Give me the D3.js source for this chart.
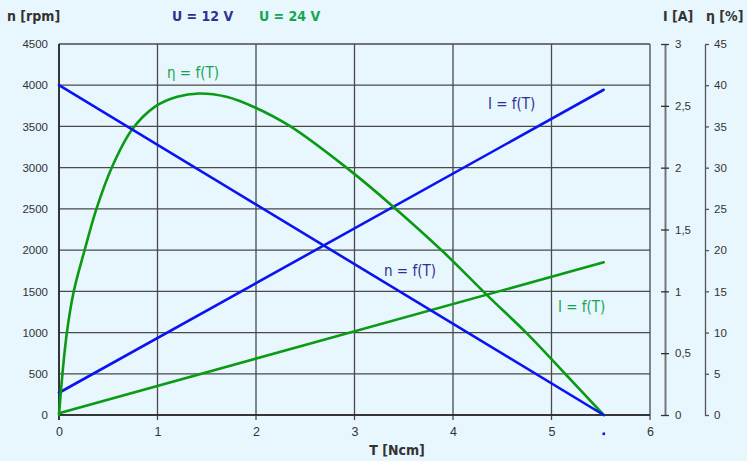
<!DOCTYPE html>
<html>
<head>
<meta charset="utf-8">
<script src="https://cdn.jsdelivr.net/npm/d3@7"></script>
<style>
  html, body { margin: 0; padding: 0; background: #e8f6fd; }
  svg { display: block; }
  .tick text { font-family: "Liberation Sans", Arial, sans-serif; font-size: 11.5px; fill: #333; }
  .title { font-family: "DejaVu Sans Condensed", "DejaVu Sans", sans-serif; font-stretch: condensed; font-weight: bold; }
  .lbl { font-family: "DejaVu Sans Condensed", "DejaVu Sans", sans-serif; font-stretch: condensed; }
</style>
</head>
<body>
<script>
// torque axis ticks and the curves
const torqueTicks = [0, 1, 2, 3, 4, 5, 6];
const speedTicks = [0, 500, 1000, 1500, 2000, 2500, 3000, 3500, 4000, 4500];
const currentTicks = [0, 0.5, 1, 1.5, 2, 2.5, 3];
const effTicks = [0, 5, 10, 15, 20, 25, 30, 35, 40, 45];

// n = f(T), 12 V
const speed12 = [[0, 4000], [5.53, 0]];
// I = f(T), 12 V and 24 V
const current12 = [[0, 0.18], [5.53, 2.63]];
const current24 = [[0, 0.015], [5.53, 1.235]];
// eta = f(T)
const efficiency = [
  [0, 0], [0.035, 5], [0.08, 10], [0.15, 15], [0.26, 20], [0.38, 25],
  [0.535, 30], [0.74, 34.6], [0.975, 37.4], [1.2, 38.6], [1.42, 39.0],
  [1.7, 38.6], [1.99, 37.3], [2.35, 35.0], [2.95, 29.7], [3.39, 25.3],
  [3.9, 19.8], [4.34, 14.6], [4.75, 9.9], [5.15, 4.85], [5.53, 0]
];
const stallTorque = 5.53;

const W = 747, H = 461;
const BLUE = "#0a14f0", GREEN = "#0a9a14";
const TXT_BLUE = "#2e3192", TXT_GREEN = "#15a650";

const x = d3.scaleLinear([0, 6], [59, 650]);
const yN = d3.scaleLinear([0, 4500], [415, 44]);
const yI = d3.scaleLinear([0, 3], [415, 44]);
const yE = d3.scaleLinear([0, 45], [415, 44]);

const svg = d3.select("body").append("svg")
    .attr("width", W)
    .attr("height", H);

svg.append("rect").attr("width", W).attr("height", H).attr("fill", "#e8f6fd");

// grid
const grid = svg.append("g").attr("stroke", "#4a4a4a").attr("stroke-width", 1.3);
grid.selectAll("line.h")
    .data(speedTicks)
    .join("line")
    .attr("class", "h")
    .attr("x1", x(0)).attr("x2", x(6))
    .attr("y1", d => yN(d)).attr("y2", d => yN(d));
grid.selectAll("line.v")
    .data(torqueTicks)
    .join("line")
    .attr("class", "v")
    .attr("x1", d => x(d)).attr("x2", d => x(d))
    .attr("y1", yN(4500)).attr("y2", yN(0) + 5);
// axis baselines a bit darker
svg.append("line").attr("x1", x(0)).attr("x2", x(6)).attr("y1", yN(0)).attr("y2", yN(0))
    .attr("stroke", "#222").attr("stroke-width", 1.6);
svg.append("line").attr("x1", x(0)).attr("x2", x(0)).attr("y1", yN(4500)).attr("y2", yN(0) + 5)
    .attr("stroke", "#222").attr("stroke-width", 1.6);

// left axis
svg.append("g")
    .attr("transform", `translate(${x(0)},0)`)
    .call(d3.axisLeft(yN).tickValues(speedTicks).tickSize(0).tickPadding(11).tickFormat(d3.format("d")))
    .call(g => g.select(".domain").remove());

// bottom axis
svg.append("g")
    .attr("transform", `translate(0,${yN(0)})`)
    .call(d3.axisBottom(x).tickValues(torqueTicks).tickSize(0).tickPadding(12).tickFormat(d3.format("d")))
    .call(g => g.select(".domain").remove())
    .call(g => g.selectAll(".tick text").style("font-size", "12.5px"));

// right axis: current
const comma = d => String(d).replace(".", ",");
svg.append("g")
    .attr("transform", "translate(665,0)")
    .call(d3.axisRight(yI).tickValues(currentTicks).tickSize(4).tickPadding(6).tickSizeOuter(0).tickFormat(comma))
    .call(g => g.select(".domain").attr("stroke", "#777").attr("stroke-width", 2))
    .call(g => g.selectAll(".tick line").attr("x1", -4).attr("stroke", "#333").attr("stroke-width", 1.3));

// right axis: efficiency
svg.append("g")
    .attr("transform", "translate(705,0)")
    .call(d3.axisRight(yE).tickValues(effTicks).tickSize(4).tickPadding(5).tickSizeOuter(0).tickFormat(d3.format("d")))
    .call(g => g.select(".domain").attr("stroke", "#555").attr("stroke-width", 1.3))
    .call(g => g.selectAll(".tick line").attr("stroke", "#555").attr("stroke-width", 1.3));

// curves
const lineN = d3.line().x(d => x(d[0])).y(d => yN(d[1]));
const lineI = d3.line().x(d => x(d[0])).y(d => yI(d[1]));
const lineE = d3.line().curve(d3.curveCatmullRom.alpha(0.5)).x(d => x(d[0])).y(d => yE(d[1]));

const curves = svg.append("g").attr("fill", "none").attr("stroke-width", 2.6).attr("stroke-linecap", "round");
curves.append("path").attr("d", lineI(current24)).attr("stroke", GREEN);
curves.append("path").attr("d", lineI(current12)).attr("stroke", BLUE);
curves.append("path").attr("d", lineE(efficiency)).attr("stroke", GREEN);
curves.append("path").attr("d", lineN(speed12)).attr("stroke", BLUE);

// stall torque marker under the axis
svg.append("rect")
    .attr("x", x(stallTorque) - 1.2).attr("y", 432.5)
    .attr("width", 2.6).attr("height", 2.6)
    .attr("fill", BLUE);

// titles
svg.append("text").attr("class", "title").attr("x", 7).attr("y", 21)
    .style("font-size", "14px").attr("fill", "#333").text("n [rpm]");
svg.append("text").attr("class", "title").attr("x", 172).attr("y", 21)
    .style("font-size", "14px").attr("fill", TXT_BLUE).text("U = 12 V");
svg.append("text").attr("class", "title").attr("x", 259).attr("y", 21)
    .style("font-size", "14px").attr("fill", TXT_GREEN).text("U = 24 V");
svg.append("text").attr("class", "title").attr("x", 663).attr("y", 21)
    .style("font-size", "14px").attr("fill", "#333").text("I [A]");
svg.append("text").attr("class", "title").attr("x", 706).attr("y", 21)
    .style("font-size", "14px").attr("fill", "#333").text("η [%]");
svg.append("text").attr("class", "title").attr("x", 397).attr("y", 455)
    .attr("text-anchor", "middle")
    .style("font-size", "14px").attr("fill", "#333").text("T [Ncm]");

// curve labels
const labels = [
  { t: "η = f(T)", x: 167, y: 78, c: TXT_GREEN },
  { t: "I = f(T)", x: 488, y: 109, c: TXT_BLUE },
  { t: "n = f(T)", x: 384, y: 276, c: TXT_BLUE },
  { t: "I = f(T)", x: 558, y: 312, c: TXT_GREEN }
];
svg.append("g").selectAll("text")
    .data(labels)
    .join("text")
    .attr("class", "lbl")
    .attr("x", d => d.x).attr("y", d => d.y)
    .attr("fill", d => d.c)
    .style("font-size", "15px")
    .text(d => d.t);
</script>
</body>
</html>
